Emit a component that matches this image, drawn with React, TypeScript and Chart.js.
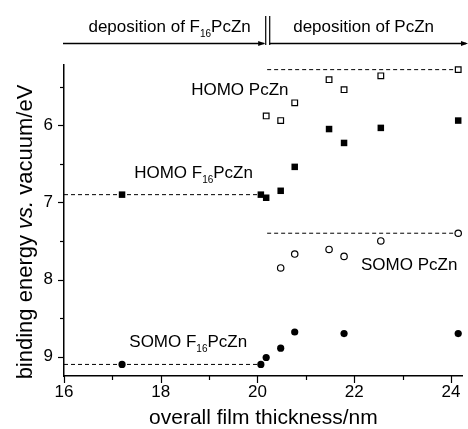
import React, { useEffect, useRef } from 'react';
import { Chart, registerables } from 'chart.js';

Chart.register(...registerables);

// Data
const xHomoF16 = [17.2, 20.07, 20.18, 20.48, 20.77, 21.48, 21.79, 22.55, 24.15];
const yHomoF16 = [6.9, 6.9, 6.94, 6.85, 6.54, 6.05, 6.23, 6.035, 5.94];
const xHomoPc = [20.18, 20.48, 20.77, 21.48, 21.79, 22.55, 24.15];
const yHomoPc = [5.88, 5.94, 5.71, 5.41, 5.54, 5.36, 5.28];
const xSomoPc = [20.48, 20.77, 21.48, 21.79, 22.55, 24.15];
const ySomoPc = [7.85, 7.67, 7.61, 7.7, 7.5, 7.4];
const xSomoF16 = [17.2, 20.07, 20.18, 20.48, 20.77, 21.79, 24.15];
const ySomoF16 = [9.1, 9.1, 9.01, 8.89, 8.68, 8.7, 8.7];

// Dashed reference levels
const dashHomoF16X = [16, 20.07];
const dashHomoF16Y = [6.9, 6.9];
const dashSomoF16X = [16, 20.07];
const dashSomoF16Y = [9.1, 9.1];
const dashHomoPcX = [20.2, 24.245];
const dashHomoPcY = [5.28, 5.28];
const dashSomoPcX = [20.2, 24.245];
const dashSomoPcY = [7.4, 7.4];

const xTicks = [16, 17, 18, 19, 20, 21, 22, 23, 24];
const yTicks = [5.5, 6, 6.5, 7, 7.5, 8, 8.5, 9];
const separatorX = 20.16;

const FONT = "'Liberation Sans', Arial, Helvetica, sans-serif";

const zip = (xs: number[], ys: number[]) => xs.map((x, i) => ({ x, y: ys[i] }));

function drawSub(ctx: CanvasRenderingContext2D, x: number, y: number, parts: [string, boolean][], size: number) {
  let cx = x;
  for (const [t, sub] of parts) {
    if (sub) {
      ctx.font = `${Math.round(size * 0.6)}px ${FONT}`;
      ctx.fillText(t, cx, y + size * 0.28);
    } else {
      ctx.font = `${size}px ${FONT}`;
      ctx.fillText(t, cx, y);
    }
    cx += ctx.measureText(t).width;
  }
}

function widthSub(ctx: CanvasRenderingContext2D, parts: [string, boolean][], size: number) {
  let w = 0;
  for (const [t, sub] of parts) {
    ctx.font = sub ? `${Math.round(size * 0.6)}px ${FONT}` : `${size}px ${FONT}`;
    w += ctx.measureText(t).width;
  }
  return w;
}

const decorPlugin = {
  id: 'decor',
  afterDraw(chart: any) {
    const ctx: CanvasRenderingContext2D = chart.ctx;
    const xs = chart.scales.x;
    const ys = chart.scales.y;
    const area = chart.chartArea;
    ctx.save();
    ctx.fillStyle = '#000';
    ctx.strokeStyle = '#000';

    // tick marks (outward)
    ctx.lineWidth = 1.2;
    for (const v of xTicks) {
      const px = Math.round(xs.getPixelForValue(v)) + 0.5;
      const len = v % 2 === 0 ? 7 : 4;
      ctx.beginPath();
      ctx.moveTo(px, area.bottom);
      ctx.lineTo(px, area.bottom + len);
      ctx.stroke();
    }
    for (const v of yTicks) {
      const py = Math.round(ys.getPixelForValue(v)) + 0.5;
      const len = Number.isInteger(v) ? 6 : 4;
      ctx.beginPath();
      ctx.moveTo(area.left, py);
      ctx.lineTo(area.left - len, py);
      ctx.stroke();
    }

    // axis titles
    ctx.textBaseline = 'alphabetic';
    ctx.textAlign = 'center';
    ctx.font = `21px ${FONT}`;
    ctx.fillText('overall film thickness/nm', (area.left + area.right) / 2, 424);

    ctx.save();
    ctx.translate(32, 232);
    ctx.rotate(-Math.PI / 2);
    ctx.textAlign = 'left';
    const segs: [string, boolean][] = [['binding energy ', false], ['vs.', true], [' vacuum/eV', false]];
    let total = 0;
    for (const [t, it] of segs) {
      ctx.font = `${it ? 'italic ' : ''}22px ${FONT}`;
      total += ctx.measureText(t).width;
    }
    let cx = -total / 2;
    for (const [t, it] of segs) {
      ctx.font = `${it ? 'italic ' : ''}22px ${FONT}`;
      ctx.fillText(t, cx, 0);
      cx += ctx.measureText(t).width;
    }
    ctx.restore();

    // annotations
    ctx.textAlign = 'left';
    const ann: { x: number; y: number; parts: [string, boolean][] }[] = [
      { x: 18.63, y: 5.61, parts: [['HOMO PcZn', false]] },
      { x: 17.45, y: 6.69, parts: [['HOMO F', false], ['16', true], ['PcZn', false]] },
      { x: 22.14, y: 7.88, parts: [['SOMO PcZn', false]] },
      { x: 17.35, y: 8.88, parts: [['SOMO F', false], ['16', true], ['PcZn', false]] },
    ];
    for (const a of ann) {
      drawSub(ctx, xs.getPixelForValue(a.x), ys.getPixelForValue(a.y), a.parts, 17);
    }

    // top arrows
    const sep = xs.getPixelForValue(separatorX);
    const arrowY = 43.5;
    ctx.lineWidth = 1.3;
    ctx.beginPath();
    ctx.moveTo(area.left - 1, arrowY);
    ctx.lineTo(sep - 1, arrowY);
    ctx.moveTo(sep + 4, arrowY);
    ctx.lineTo(chart.width - 2, arrowY);
    ctx.stroke();
    const head = (tipX: number) => {
      ctx.beginPath();
      ctx.moveTo(tipX, arrowY);
      ctx.lineTo(tipX - 7, arrowY - 2.5);
      ctx.lineTo(tipX - 7, arrowY + 2.5);
      ctx.closePath();
      ctx.fill();
    };
    head(sep);
    head(chart.width);
    ctx.lineWidth = 1.2;
    ctx.beginPath();
    ctx.moveTo(sep + 0.5, 16);
    ctx.lineTo(sep + 0.5, 45);
    ctx.moveTo(sep + 4.5, 16);
    ctx.lineTo(sep + 4.5, 45);
    ctx.stroke();

    // header texts
    const leftParts: [string, boolean][] = [['deposition of F', false], ['16', true], ['PcZn', false]];
    const lw = widthSub(ctx, leftParts, 17);
    drawSub(ctx, (area.left + sep) / 2 + 5 - lw / 2, 32, leftParts, 17);
    const rightParts: [string, boolean][] = [['deposition of PcZn', false]];
    const rw = widthSub(ctx, rightParts, 17);
    drawSub(ctx, (sep + chart.width) / 2 - 3 - rw / 2, 32, rightParts, 17);

    ctx.restore();
  },
};

export default function App() {
  const ref = useRef<HTMLCanvasElement | null>(null);
  useEffect(() => {
    if (!ref.current) return;
    const dashed = (xs: number[], ys: number[]) => ({
      type: 'line' as const,
      data: zip(xs, ys),
      borderColor: '#000',
      borderWidth: 1,
      borderDash: [4, 3],
      pointRadius: 0,
      fill: false,
      order: 5,
    });
    const chart = new Chart(ref.current, {
      type: 'scatter',
      data: {
        datasets: [
          dashed(dashHomoF16X, dashHomoF16Y),
          dashed(dashSomoF16X, dashSomoF16Y),
          dashed(dashHomoPcX, dashHomoPcY),
          dashed(dashSomoPcX, dashSomoPcY),
          {
            label: 'HOMO F16PcZn',
            data: zip(xHomoF16, yHomoF16),
            pointStyle: 'rect',
            pointRadius: 4.6,
            backgroundColor: '#000',
            borderColor: '#000',
            borderWidth: 0,
            order: 1,
          },
          {
            label: 'HOMO PcZn',
            data: zip(xHomoPc, yHomoPc),
            pointStyle: 'rect',
            pointRadius: 4,
            backgroundColor: '#fff',
            borderColor: '#000',
            borderWidth: 1.2,
            order: 1,
          },
          {
            label: 'SOMO PcZn',
            data: zip(xSomoPc, ySomoPc),
            pointStyle: 'circle',
            pointRadius: 3.2,
            backgroundColor: '#fff',
            borderColor: '#000',
            borderWidth: 1.2,
            order: 1,
          },
          {
            label: 'SOMO F16PcZn',
            data: zip(xSomoF16, ySomoF16),
            pointStyle: 'circle',
            pointRadius: 3.6,
            backgroundColor: '#000',
            borderColor: '#000',
            borderWidth: 0,
            order: 1,
          },
        ],
      },
      options: {
        animation: false,
        responsive: false,
        devicePixelRatio: 1,
        clip: false as any,
        layout: { padding: { top: 65, left: 0, right: 0, bottom: 0 } },
        plugins: { legend: { display: false }, tooltip: { enabled: false } },
        scales: {
          x: {
            type: 'linear',
            min: 16,
            max: 24.245,
            grid: { display: false, drawTicks: false },
            border: { display: true, color: '#000', width: 1.5 },
            ticks: {
              color: '#000',
              font: { family: FONT, size: 17 },
              padding: 6,
              autoSkip: false,
              maxRotation: 0,
              callback: (v: any) => (Number(v) % 2 === 0 ? String(v) : ''),
            },
            afterBuildTicks: (s: any) => {
              s.ticks = xTicks.map((v) => ({ value: v }));
            },
            afterFit: (s: any) => {
              s.height = 53;
            },
          },
          y: {
            type: 'linear',
            reverse: true,
            min: 5.22,
            max: 9.25,
            grid: { display: false, drawTicks: false },
            border: { display: true, color: '#000', width: 1.5 },
            ticks: {
              color: '#000',
              font: { family: FONT, size: 17 },
              padding: 11,
              autoSkip: false,
              callback: (v: any) => (Number.isInteger(Number(v)) ? String(v) : ''),
            },
            afterBuildTicks: (s: any) => {
              s.ticks = yTicks.map((v) => ({ value: v }));
            },
            afterFit: (s: any) => {
              s.width = 64;
            },
          },
        },
      },
      plugins: [decorPlugin],
    });
    return () => chart.destroy();
  }, []);
  return (
    <div style={{ position: 'absolute', left: 0, top: 0, width: 468, height: 429, background: '#fff' }}>
      <canvas ref={ref} width={468} height={429} style={{ display: 'block' }} />
    </div>
  );
}
